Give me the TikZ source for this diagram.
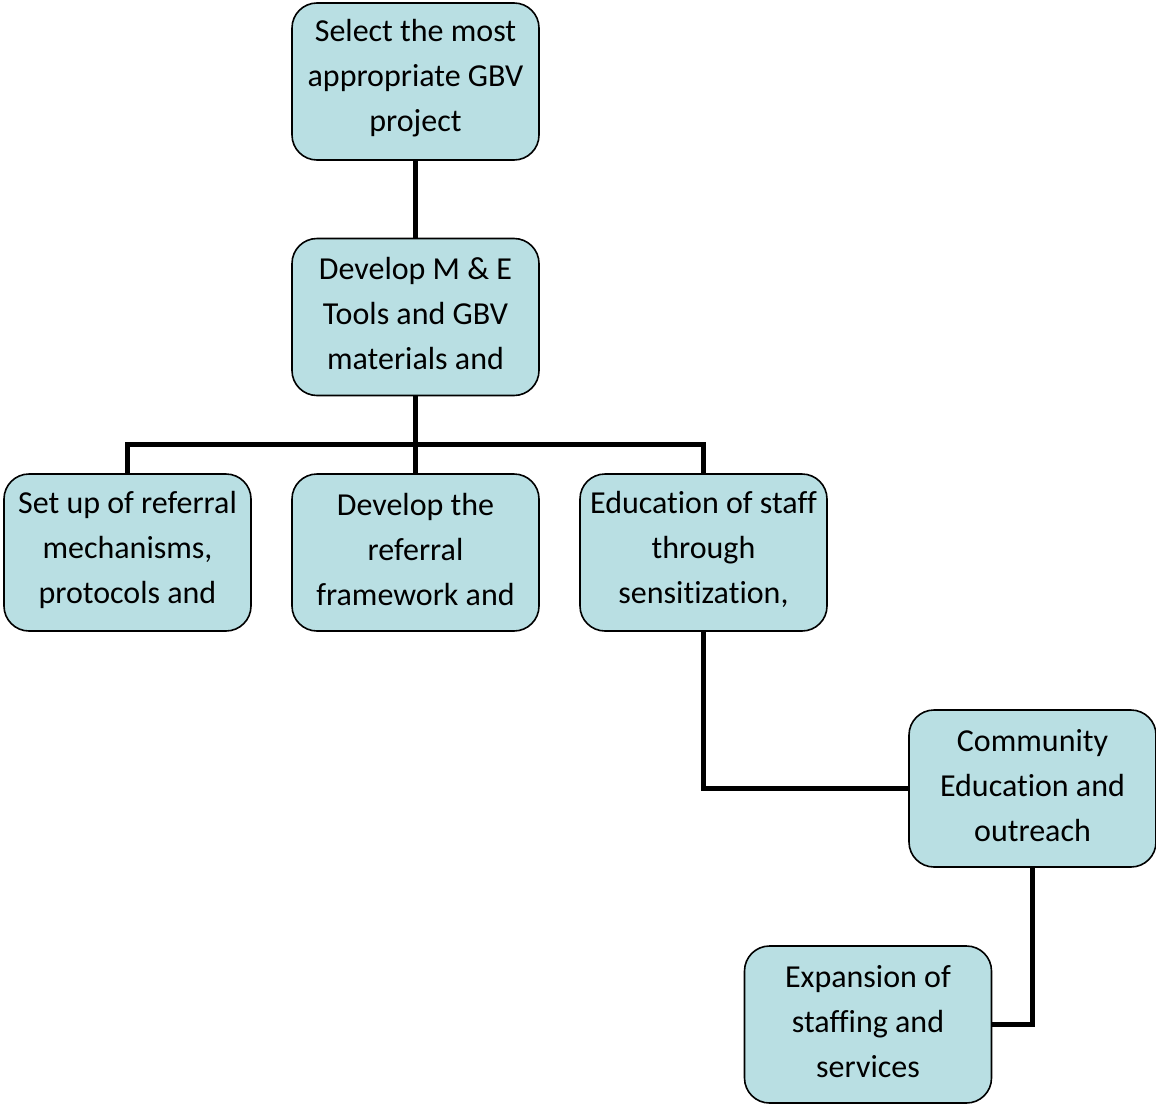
\documentclass[tikz,border=0pt]{standalone}
\usepackage{fontspec}
\setmainfont[Ligatures={NoCommon}]{Carlito}
\usetikzlibrary{backgrounds}
\definecolor{boxfill}{HTML}{B9DFE3}
\tikzset{
  box/.style={draw=black, line width=1.6pt, fill=boxfill, rounded corners=25pt,
    minimum width=247pt, minimum height=157pt, inner sep=0pt},
  boxtext/.style={align=center, inner sep=0pt, yshift=3pt,
    font=\fontsize{32}{45}\selectfont},
  link/.style={draw=black, line width=5pt}
}
\begin{document}
\begin{tikzpicture}[x=1pt,y=-1pt]
\useasboundingbox (0,0) rectangle (1156,1103);
\node[box, label={[boxtext]center:Select the most\\appropriate GBV\\project}] (top) at (415.5,81.5) {};
\node[box, label={[boxtext]center:Develop M \& E\\Tools and GBV\\materials and}] (dev) at (415.5,317) {};
\node[box, label={[boxtext]center:Set up of referral\\mechanisms,\\protocols and}] (left) at (127.5,552.5) {};
\node[box, label={[boxtext]center:Develop the\\referral\\framework and}] (mid) at (415.5,552.5) {};
\node[box, label={[boxtext]center:Education of staff\\through\\sensitization,}] (right) at (703.5,552.5) {};
\node[box, label={[boxtext]center:Community\\Education and\\outreach}] (comm) at (1032.5,788.5) {};
\node[box, label={[boxtext]center:Expansion of\\staffing and\\services}] (exp) at (868,1024.5) {};
\coordinate (bus) at (415.5,444);
\begin{scope}[on background layer]
\draw[link] (top.south) -- (dev.north);
\draw[link] (dev.south) -- (mid.north);
\draw[link] (left.north) |- (bus) -| (right.north);
\draw[link] (right.south) |- (comm.west);
\draw[link] (comm.south) |- (exp.east);
\end{scope}
\end{tikzpicture}
\end{document}
